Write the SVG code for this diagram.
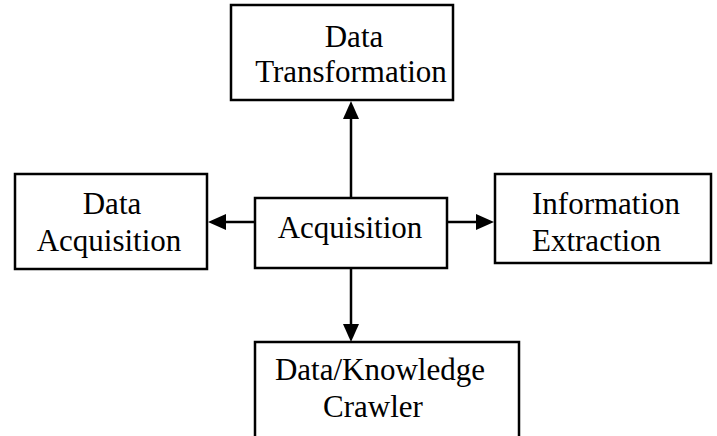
<svg xmlns="http://www.w3.org/2000/svg" width="717" height="436" viewBox="0 0 717 436">
  <style>
    .box { fill: #fff; stroke: #000; stroke-width: 2.5; }
    .lbl { font-family: "Liberation Serif", "Times New Roman", serif; font-size: 31px; fill: #000; }
    .mid { text-anchor: middle; }
    .edge { stroke: #000; stroke-width: 2.5; fill: none; }
    .head { fill: #000; }
  </style>
  <rect width="717" height="436" fill="#fff"/>

  <!-- arrows from the central Acquisition box to its four neighbours -->
  <g id="connectors">
    <line class="edge" x1="351" y1="198" x2="351" y2="118"/>
    <path class="head" d="M351,101 l-8,18 h16 Z"/>
    <line class="edge" x1="255" y1="222" x2="225" y2="222"/>
    <path class="head" d="M208,222 l18,-8 v16 Z"/>
    <line class="edge" x1="447" y1="222" x2="477" y2="222"/>
    <path class="head" d="M494,222 l-18,-8 v16 Z"/>
    <line class="edge" x1="351" y1="269" x2="351" y2="325"/>
    <path class="head" d="M351,342 l-8,-18 h16 Z"/>
  </g>

  <g id="data-transformation">
    <rect class="box" x="231" y="5" width="222" height="95"/>
    <text class="lbl mid" x="354" y="47">Data</text>
    <text class="lbl mid" x="351" y="82">Transformation</text>
  </g>

  <g id="data-acquisition">
    <rect class="box" x="15" y="174" width="192" height="95"/>
    <text class="lbl mid" x="112" y="214">Data</text>
    <text class="lbl mid" x="109" y="251">Acquisition</text>
  </g>

  <g id="acquisition">
    <rect class="box" x="255" y="198" width="192" height="70"/>
    <text class="lbl mid" x="350" y="238">Acquisition</text>
  </g>

  <g id="information-extraction">
    <rect class="box" x="495" y="174" width="216" height="89"/>
    <text class="lbl" x="532" y="214">Information</text>
    <text class="lbl" x="532" y="251">Extraction</text>
  </g>

  <g id="data-knowledge-crawler">
    <rect class="box" x="255" y="342" width="264" height="110"/>
    <text class="lbl mid" x="380" y="380">Data/Knowledge</text>
    <text class="lbl mid" x="373" y="417">Crawler</text>
  </g>
</svg>
